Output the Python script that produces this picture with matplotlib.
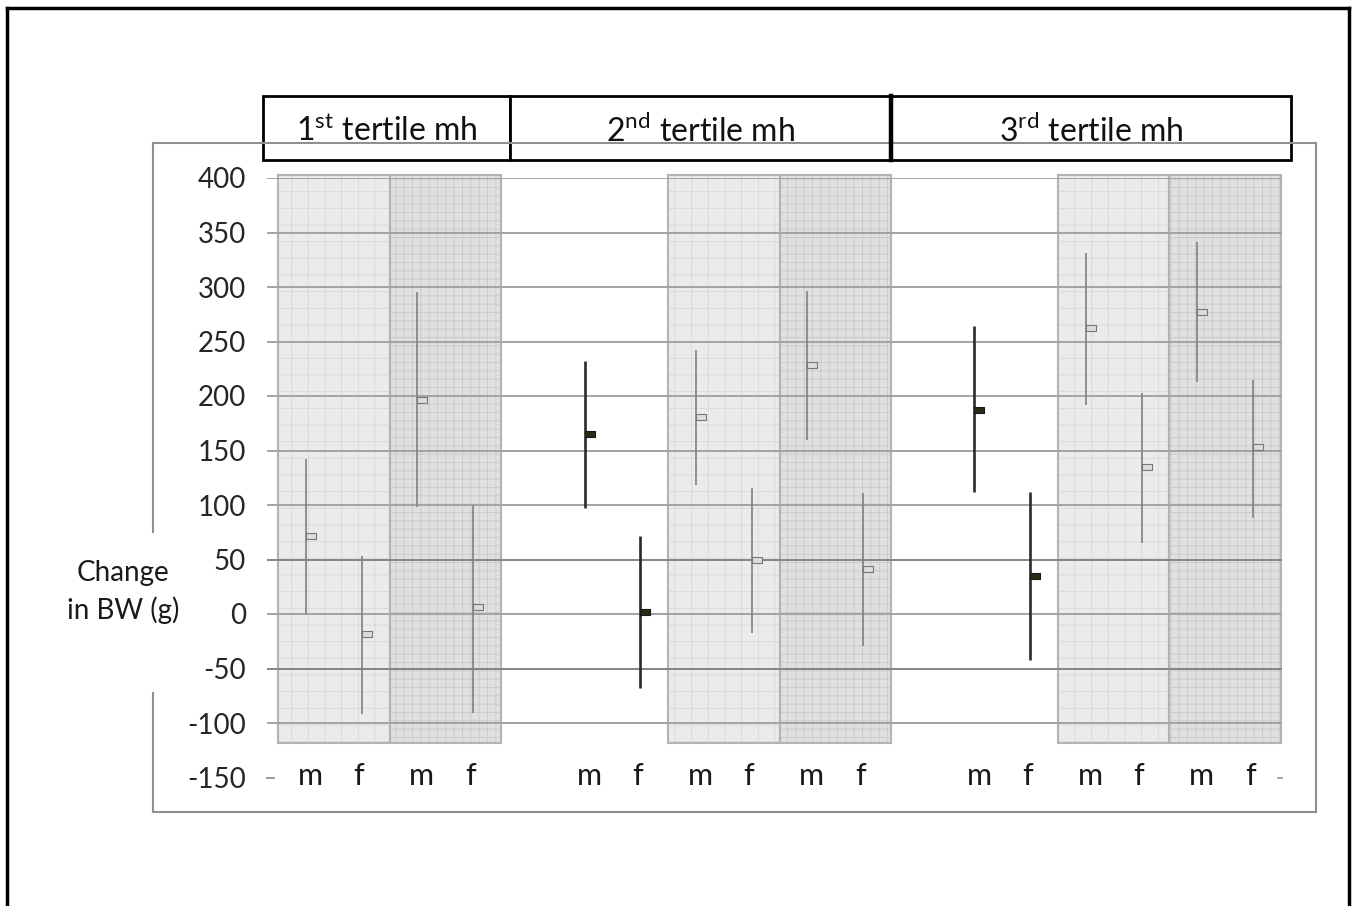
import matplotlib
matplotlib.use("Agg")
import matplotlib.pyplot as plt
from matplotlib.patches import Rectangle
from matplotlib.lines import Line2D
from matplotlib.path import Path

# --- data ---
sexes = ["m", "f"] * 8
tertile = [0, 0, 0, 0, 1, 1, 1, 1, 1, 1, 2, 2, 2, 2, 2, 2]
shade = ["light", "light", "dark", "dark",
         "none", "none", "light", "light", "dark", "dark",
         "none", "none", "light", "light", "dark", "dark"]
mean_bw = [72, -18, 196, 6, 165, 2, 181, 50, 228, 41, 187, 35, 262, 135, 277, 153]
low_bw = [0, -92, 98, -91, 97, -68, 118, -17, 160, -29, 112, -42, 192, 65, 213, 88]
high_bw = [142, 53, 295, 100, 232, 72, 242, 116, 296, 111, 264, 112, 331, 203, 341, 215]
tertile_nums = ["1", "2", "3"]
tertile_sfx = ["st", "nd", "rd"]
y_ticks = list(range(-150, 401, 50))

W, H = 1355, 906
plt.rcParams["font.family"] = ["Lato", "DejaVu Sans"]
plt.rcParams["mathtext.fontset"] = "custom"
plt.rcParams["mathtext.rm"] = "Lato"
plt.rcParams["hatch.linewidth"] = 0.6

fig = plt.figure(figsize=(W / 100, H / 100), dpi=100)
fig.patch.set_facecolor("white")


def fx(px):
    return px / W


def fy(py):
    return 1 - py / H


# outer black frame (bottom edge falls outside the picture)
for xs, ys in [([7, 7], [8, H + 5]), ([7, 1349], [8, 8]), ([1349, 1349], [8, H + 5])]:
    fig.add_artist(Line2D([fx(x) for x in xs], [fy(y) for y in ys],
                          color="black", lw=2.5, transform=fig.transFigure))

# grey chart-area frame, broken on the left by the axis title
frame = dict(color="#8f8f8f", lw=1.5, transform=fig.transFigure)
for xs, ys in [([153, 1316], [143, 143]), ([153, 1316], [812, 812]),
               ([1316, 1316], [143, 812]), ([153, 153], [143, 532]),
               ([153, 153], [693, 812])]:
    fig.add_artist(Line2D([fx(x) for x in xs], [fy(y) for y in ys], **frame))

ax = fig.add_axes([fx(267), fy(777.5), fx(1282 - 267), (777.5 - 178) / H])
ax.set_xlim(-0.7, 17.52)
ax.set_ylim(-150, 400)
for s in ax.spines.values():
    s.set_visible(False)

pos = [i + t for i, t in enumerate(tertile)]

# shaded background blocks
i = 0
while i < len(pos):
    if shade[i] != "none":
        x0, x1 = pos[i] - 0.5, pos[i + 1] + 0.5
        if shade[i] == "light":
            face, hcol, hatch = "#ebebeb", "#d8d8d8", "+"
        else:
            face, hcol, hatch = "#e0e0e0", "#c9c9c9", "++"
        ax.add_patch(Rectangle((x0, -118), x1 - x0, 521, facecolor=face,
                               edgecolor=hcol, hatch=hatch, lw=0, zorder=0,
                               clip_on=False))
        ax.add_patch(Rectangle((x0, -118), x1 - x0, 521, fill=False,
                               edgecolor="#b3b3b3", lw=1.5, zorder=1, clip_on=False))
    i += 2

# gridlines
for v in y_ticks[1:]:
    c = "#858585" if v in (50, -50) else "#a3a3a3"
    ax.axhline(v, color=c, lw=1.4, zorder=2)
ax.axhline(-150, xmin=0, xmax=0.007, color="#999999", lw=1.4, clip_on=False)
ax.axhline(-150, xmin=0.996, xmax=1.0, color="#aaaaaa", lw=1.4, clip_on=False)

ax.set_yticks(y_ticks)
ax.set_yticklabels([str(v) for v in y_ticks], fontsize=20, color="#262626")
ax.tick_params(axis="y", length=0, pad=15)
ax.set_xticks([])

# error bars and mean markers
bar_marker = Path([(0, -0.5), (1.8, -0.5), (1.8, 0.5), (0, 0.5), (0, -0.5)],
                  [Path.MOVETO, Path.LINETO, Path.LINETO, Path.LINETO, Path.CLOSEPOLY])
for p, m, lo, hi, sh in zip(pos, mean_bw, low_bw, high_bw, shade):
    if sh == "none":
        lc, lw, fc, ec = "#2a2a2a", 1.9, "#2b2b18", "#1a1a1a"
    else:
        lc, lw, fc, ec = "#808080", 1.2, "#dcdcdc", "#777777"
    ax.plot([p, p], [lo, hi], color=lc, lw=lw, solid_capstyle="butt", zorder=3)
    ax.plot(p, m, marker=bar_marker, ms=14, mfc=fc, mec=ec, mew=0.8, zorder=4)

# m / f category labels
for p, s in zip(pos, sexes):
    dx = 0.08 if s == "m" else -0.05
    ax.text(p + dx, -157, s, ha="center", va="baseline", fontsize=22,
            color="#1a1a1a")

# axis title
fig.text(fx(123), fy(592), "Change\nin BW (g)", ha="center", va="center",
         fontsize=20, linespacing=1.5, color="#1a1a1a")

# tertile header boxes
edges = [263, 510, 891, 1291]
for k in range(3):
    x0, x1 = edges[k], edges[k + 1]
    fig.add_artist(Rectangle((fx(x0), fy(160)), fx(x1 - x0), (160 - 96) / H,
                             facecolor="white", edgecolor="black", lw=2.0,
                             transform=fig.transFigure))
    fig.text(fx((x0 + x1) / 2), fy(131),
             tertile_nums[k] + r"$^{\rm " + tertile_sfx[k] + "}$ tertile mh",
             ha="center", va="center", fontsize=23, color="#111111")
fig.add_artist(Line2D([fx(891), fx(891)], [fy(96), fy(160)], color="black",
                      lw=3.2, transform=fig.transFigure))

fig.savefig("out.png", dpi=100, facecolor="white")
